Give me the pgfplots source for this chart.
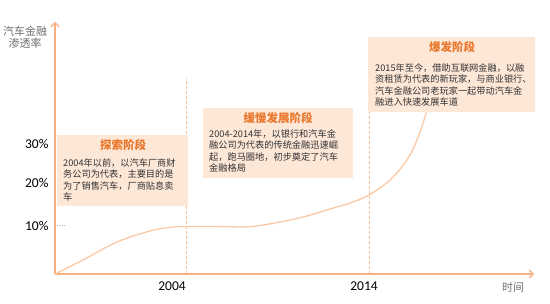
\documentclass[border=0pt]{standalone}
\usepackage{fontspec}
\setmainfont{Carlito}
\newfontfamily\cjk{Noto Sans CJK SC}
\usepackage{pgfplots}
\pgfplotsset{compat=1.18}
\usetikzlibrary{arrows.meta}
\definecolor{axisor}{RGB}{247,176,126}
\definecolor{curveor}{RGB}{250,200,165}
\definecolor{dashor}{RGB}{248,190,145}
\definecolor{boxfill}{RGB}{253,231,215}
\definecolor{titleor}{RGB}{233,120,45}
\definecolor{bodytxt}{RGB}{50,50,50}
\definecolor{greytxt}{RGB}{110,110,110}
\definecolor{tickblue}{RGB}{160,185,215}
\begin{document}
\begin{tikzpicture}
\useasboundingbox (0,0) rectangle (550bp,304bp);
\begin{axis}[
  at={(55bp,30bp)}, anchor=origin,
  x=1bp, y=1bp, xmin=0, xmax=479, ymin=0, ymax=252,
  axis lines=left,
  axis line style={draw=axisor, line width=1.2bp, -{Straight Barb[length=4bp,width=8bp]}},
  clip=false,
  xtick={117,309}, xticklabels={2004,2014},
  ytick={48,91,130}, yticklabels={\raisebox{-4bp}{10\%},20\%,30\%},
  tick align=inside,
  major tick length=9bp,
  xtick style={draw=none},
  ytick style={draw=tickblue, dotted, line width=1bp},
  tick label style={font=\fontsize{13.5bp}{16bp}\selectfont, text=black},
  /pgf/number format/assume math mode=true,
  xticklabel style={yshift=-4bp},
  yticklabel style={xshift=-3bp},
]
% dashed guide lines
\addplot[dashor, line width=0.8bp, dash pattern=on 3bp off 2bp] coordinates {(131,0) (131,196)};
\addplot[dashor, line width=0.8bp, dash pattern=on 3bp off 2bp] coordinates {(314,0) (314,162)};
% penetration curve
\addplot[curveor, line width=1.3bp, smooth, tension=0.55] coordinates {
  (0,0) (28,14) (62,32) (95,43) (118,47) (131,47.5) (160,47.5) (195,47.3)
  (225,52) (250,57.5) (275,65) (295,71) (314,79) (335,94) (352,114)
  (362,134) (370,157) (373,167)
};
% boxes
\fill[boxfill] (axis cs:2,68) rectangle (axis cs:133,139);
\fill[boxfill] (axis cs:148,96) rectangle (axis cs:298,166);
\fill[boxfill] (axis cs:313,162) rectangle (axis cs:480,237);
% titles
\node[font=\cjk\bfseries\fontsize{11.5bp}{13bp}\selectfont, text=titleor] at (axis cs:68,129) {探索阶段};
\node[font=\cjk\bfseries\fontsize{11.5bp}{13bp}\selectfont, text=titleor] at (axis cs:223,156) {缓慢发展阶段};
\node[font=\cjk\bfseries\fontsize{11.5bp}{13bp}\selectfont, text=titleor] at (axis cs:397,227) {爆发阶段};
% bodies
\node[anchor=north west, inner sep=0pt, align=left, font=\cjk\fontsize{9.2bp}{11.5bp}\selectfont, text=bodytxt] at (axis cs:8,115.6)
  {2004年以前，以汽车厂商财\\务公司为代表，主要目的是\\为了销售汽车，厂商贴息卖\\车};
\node[anchor=north west, inner sep=0pt, align=left, font=\cjk\fontsize{9.2bp}{11.5bp}\selectfont, text=bodytxt] at (axis cs:154,144.6)
  {2004-2014年，以银行和汽车金\\融公司为代表的传统金融迅速崛\\起，跑马圈地，初步奠定了汽车\\金融格局};
\node[anchor=north west, inner sep=0pt, align=left, font=\cjk\fontsize{9.2bp}{11.5bp}\selectfont, text=bodytxt] at (axis cs:320,210.6)
  {2015年至今，借助互联网金融，以融\\资租赁为代表的新玩家，与商业银行、\\汽车金融公司老玩家一起带动汽车金\\融进入快速发展车道};
% axis labels
\node[font=\cjk\fontsize{11bp}{11.5bp}\selectfont, text=greytxt, align=center] at (axis cs:-30,236.5) {汽车金融\\渗透率};
\node[font=\cjk\fontsize{11bp}{11.5bp}\selectfont, text=greytxt] at (axis cs:458,-13) {时间};
\end{axis}
\end{tikzpicture}
\end{document}
